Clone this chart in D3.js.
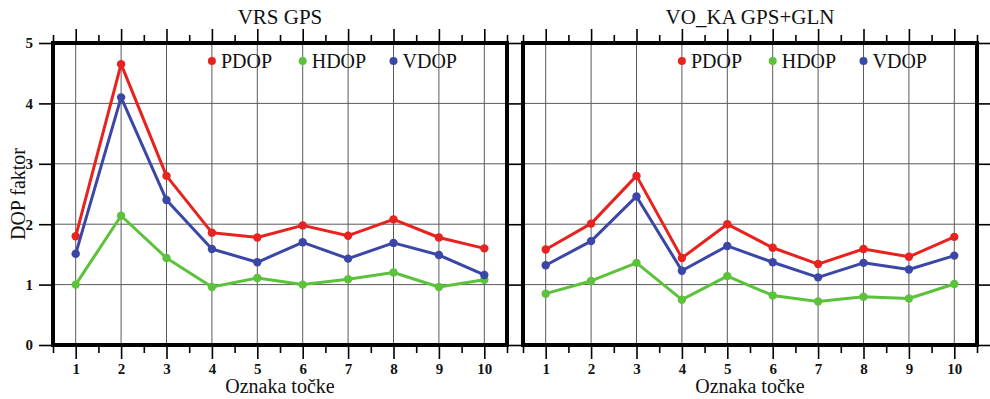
<!DOCTYPE html>
<html>
<head>
<meta charset="utf-8">
<script src="https://cdn.jsdelivr.net/npm/d3@7"></script>
<style>
  body { margin: 0; background: #fff; }
  svg text { font-family: "Liberation Serif", "Times New Roman", serif !important; fill: #111; }
</style>
</head>
<body>
<div class="container"></div>
<script>
const width = 990;
const height = 399;

// point labels on x
const points = [1, 2, 3, 4, 5, 6, 7, 8, 9, 10];
const yTicks = [0, 1, 2, 3, 4, 5];
const seriesNames = ['PDOP', 'HDOP', 'VDOP'];
const panelTitles = ['VRS GPS', 'VO_KA GPS+GLN'];

// VRS GPS
const vrsPdop = [1.80, 4.65, 2.80, 1.86, 1.78, 1.98, 1.81, 2.08, 1.78, 1.60];
const vrsHdop = [1.00, 2.14, 1.44, 0.96, 1.11, 1.00, 1.09, 1.20, 0.96, 1.08];
const vrsVdop = [1.51, 4.10, 2.40, 1.59, 1.37, 1.70, 1.43, 1.69, 1.49, 1.16];

// VO_KA GPS+GLN
const vokaPdop = [1.58, 2.01, 2.80, 1.44, 2.00, 1.61, 1.34, 1.59, 1.46, 1.79];
const vokaHdop = [0.85, 1.06, 1.36, 0.75, 1.14, 0.82, 0.72, 0.80, 0.77, 1.01];
const vokaVdop = [1.32, 1.72, 2.46, 1.23, 1.64, 1.37, 1.12, 1.36, 1.25, 1.48];

const colors = { PDOP: '#e8221e', HDOP: '#5cc23c', VDOP: '#3b47a6' };
// legend dots sit on these x values
const legendAt = [4, 6, 8];

const panels = [
    { title: panelTitles[0], x0: 53, data: { PDOP: vrsPdop, HDOP: vrsHdop, VDOP: vrsVdop } },
    { title: panelTitles[1], x0: 523, data: { PDOP: vokaPdop, HDOP: vokaHdop, VDOP: vokaVdop } },
];

const plotTop = 43;
const plotBottom = 345;
const panelW = 454;
const serif = '"Liberation Serif", "Times New Roman", serif';

const svg = d3.select('.container')
    .append('svg')
    .attr('width', width)
    .attr('height', height)
    .attr('font-family', serif);

const yscale = d3.scaleLinear().domain([0, 5]).range([plotBottom, plotTop]);

panels.forEach((p, pi) => {
    const xscale = d3.scaleLinear().domain([0.5, 10.5]).range([p.x0, p.x0 + panelW]);
    const g = svg.append('g');
    const minor = d3.range(0.5, 11, 1);

    // grid
    g.selectAll('.vgrid')
        .data(points)
        .enter()
        .append('line')
        .attr('x1', d => xscale(d)).attr('x2', d => xscale(d))
        .attr('y1', plotTop).attr('y2', plotBottom)
        .attr('stroke', '#5a5a5a').attr('stroke-width', 1);
    g.selectAll('.hgrid')
        .data(yTicks.slice(1, 5))
        .enter()
        .append('line')
        .attr('x1', p.x0).attr('x2', p.x0 + panelW)
        .attr('y1', d => yscale(d)).attr('y2', d => yscale(d))
        .attr('stroke', '#5a5a5a').attr('stroke-width', 1);

    // ticks, bottom and top
    const tickStyle = sel => {
        sel.attr('font-family', serif);
        sel.select('.domain').remove();
        sel.selectAll('line').attr('stroke', '#000').attr('stroke-width', 1.6);
        sel.selectAll('text')
            .style('font-family', serif)
            .style('font-size', '15px')
            .style('font-weight', 'bold')
            .attr('fill', '#222');
    };
    g.append('g')
        .attr('transform', `translate(0,${plotBottom})`)
        .call(d3.axisBottom(xscale).tickValues(points).tickSize(14).tickPadding(4).tickFormat(d3.format('d')))
        .call(tickStyle);
    g.append('g')
        .attr('transform', `translate(0,${plotBottom})`)
        .call(d3.axisBottom(xscale).tickValues(minor).tickSize(8).tickFormat(''))
        .call(tickStyle);
    g.append('g')
        .attr('transform', `translate(0,${plotTop})`)
        .call(d3.axisTop(xscale).tickValues(points).tickSize(14).tickFormat(''))
        .call(tickStyle);
    g.append('g')
        .attr('transform', `translate(0,${plotTop})`)
        .call(d3.axisTop(xscale).tickValues(minor).tickSize(8).tickFormat(''))
        .call(tickStyle);

    // y ticks on both sides
    g.append('g')
        .attr('transform', `translate(${p.x0},0)`)
        .call(d3.axisLeft(yscale).tickValues(yTicks).tickSize(pi === 0 ? 14 : 8).tickPadding(6)
            .tickFormat(pi === 0 ? d3.format('d') : ''))
        .call(tickStyle);
    g.append('g')
        .attr('transform', `translate(${p.x0 + panelW},0)`)
        .call(d3.axisRight(yscale).tickValues(yTicks).tickSize(pi === 0 ? 8 : 14).tickFormat(''))
        .call(tickStyle);

    // lines + dots
    const line = d3.line()
        .x((d, i) => xscale(points[i]))
        .y(d => yscale(d));
    seriesNames.forEach(name => {
        g.append('path')
            .datum(p.data[name])
            .attr('d', line)
            .attr('fill', 'none')
            .attr('stroke', colors[name])
            .attr('stroke-width', 3)
            .attr('stroke-linejoin', 'round');
        g.selectAll('.dot-' + name)
            .data(p.data[name])
            .enter()
            .append('circle')
            .attr('cx', (d, i) => xscale(points[i]))
            .attr('cy', d => yscale(d))
            .attr('r', 4.2)
            .attr('fill', colors[name]);
    });

    // legend
    seriesNames.forEach((name, i) => {
        const lx = xscale(legendAt[i]);
        g.append('circle')
            .attr('cx', lx).attr('cy', 61).attr('r', 4)
            .attr('fill', colors[name]);
        g.append('text')
            .attr('x', lx + 9).attr('y', 68)
            .style('font-family', serif)
            .style('font-size', '20px')
            .text(name);
    });

    // frame
    g.append('rect')
        .attr('x', p.x0).attr('y', plotTop)
        .attr('width', panelW).attr('height', plotBottom - plotTop)
        .attr('fill', 'none')
        .attr('stroke', '#000')
        .attr('stroke-width', 4);

    // title and x label
    g.append('text')
        .attr('x', p.x0 + panelW / 2).attr('y', 24)
        .attr('text-anchor', 'middle')
        .style('font-family', serif)
        .style('font-size', '21px')
        .text(p.title);
    g.append('text')
        .attr('x', p.x0 + panelW / 2).attr('y', 393)
        .attr('text-anchor', 'middle')
        .style('font-family', serif)
        .style('font-size', '20px')
        .text('Oznaka točke');
});

svg.append('text')
    .attr('transform', `translate(25,${(plotTop + plotBottom) / 2}) rotate(-90)`)
    .attr('text-anchor', 'middle')
    .style('font-family', serif)
    .style('font-size', '20px')
    .text('DOP faktor');
</script>
</body>
</html>
